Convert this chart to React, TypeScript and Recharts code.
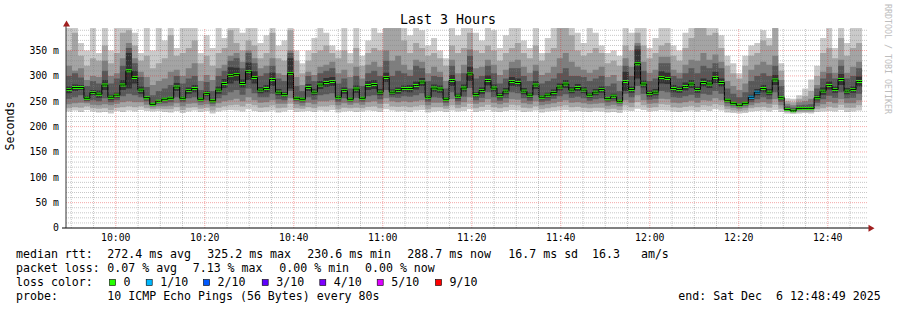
import React from 'react';
import { ComposedChart, Area, Line, XAxis, YAxis, ReferenceLine } from 'recharts';

// ---------- data ----------
const START_TIME = '09:48:49';
const END_TIME = '12:48:49';
const STEP_MINUTES = 1.345;
const Y_MAX = 394.5;

const X_TICK_LABELS = ['10:00', '10:20', '10:40', '11:00', '11:20', '11:40', '12:00', '12:20', '12:40'];
const Y_TICKS = [0, 50, 100, 150, 200, 250, 300, 350];

const MED = [
  273, 277, 277, 256, 267, 264, 282, 258, 262, 282, 310, 297, 272, 257, 244, 250, 254, 256, 278, 256,
  271, 275, 254, 265, 251, 272, 285, 301, 303, 285, 309, 297, 272, 275, 293, 268, 263, 305, 256,
  254, 277, 268, 282, 287, 289, 258, 271, 254, 274, 256, 281, 283, 268, 297, 268, 271, 275, 275, 281,
  288, 258, 276, 274, 254, 291, 260, 276, 304, 263, 271, 291, 276, 261, 270, 289, 287, 270, 262, 282,
  258, 262, 267, 278, 284, 272, 277, 272, 262, 268,
  273, 255, 260, 250, 289, 273, 324, 284, 265, 268, 297, 295, 275, 273, 279, 284, 273, 287, 284, 297,
  287, 252, 246, 242, 246, 258, 268, 275, 268, 292, 257, 234, 231, 236, 236, 236, 257, 270, 281, 273,
  293, 270, 273, 289,
];

const P1 = [
  230, 232, 229, 233, 230, 228, 229, 226, 231, 229, 232, 230, 233, 231, 230, 231, 229, 228, 231, 227,
  230, 232, 229, 231, 226, 230, 232, 233, 232, 230, 234, 231, 229, 230, 232, 228, 230, 233, 229, 230,
  231, 229, 232, 230, 233, 228, 230, 231, 229, 230, 232, 231, 229, 234, 232, 230, 231, 229, 232, 233,
  228, 230, 231, 229, 232, 230, 231, 234, 229, 231, 233, 230, 229, 231, 233, 232, 229, 230, 232, 228,
  230, 231, 232, 233, 230, 231, 230, 229, 231, 230, 228, 229, 227, 232, 231, 235, 233, 230, 231, 233,
  232, 230, 229, 231, 232, 230, 233, 231, 234, 232, 228, 227, 226, 227, 230, 231, 232, 230, 233, 229,
  226, 225, 226, 227, 226, 229, 230, 231, 230, 233, 229, 230, 232,
];
const P2 = [
  236, 238, 237, 240, 236, 235, 236, 233, 237, 238, 240, 238, 240, 236, 234, 235, 234, 234, 238, 233,
  237, 238, 235, 237, 232, 237, 240, 242, 243, 240, 245, 242, 237, 238, 242, 236, 237, 245, 236, 235,
  238, 236, 240, 240, 242, 234, 237, 236, 237, 236, 239, 240, 236, 245, 240, 239, 240, 238, 240, 242,
  234, 238, 238, 235, 242, 236, 239, 245, 236, 239, 243, 238, 236, 238, 243, 242, 237, 236, 240, 234,
  236, 238, 240, 242, 238, 239, 237, 236, 237, 237, 234, 235, 233, 242, 238, 248, 242, 237, 238, 244,
  243, 238, 237, 239, 241, 238, 242, 241, 244, 242, 234, 232, 231, 232, 236, 238, 239, 237, 243, 235,
  229, 228, 229, 229, 229, 234, 236, 239, 237, 243, 237, 237, 242,
];
const P3 = [
  244, 246, 247, 246, 243, 242, 244, 242, 245, 248, 250, 248, 248, 243, 238, 240, 240, 241, 246, 240,
  245, 246, 242, 244, 240, 246, 250, 252, 255, 250, 258, 252, 247, 248, 252, 245, 245, 256, 244, 241,
  247, 244, 250, 250, 252, 242, 246, 243, 246, 243, 248, 250, 245, 256, 250, 248, 250, 248, 250, 252,
  242, 247, 247, 241, 254, 243, 248, 258, 245, 248, 254, 247, 244, 247, 254, 253, 246, 244, 250, 242,
  244, 246, 249, 252, 247, 248, 246, 244, 245, 246, 241, 243, 240, 252, 247, 262, 252, 245, 246, 255,
  254, 247, 246, 248, 251, 247, 252, 251, 256, 252, 240, 237, 235, 237, 242, 246, 248, 245, 254, 242,
  231, 229, 232, 232, 232, 240, 244, 249, 246, 254, 246, 246, 252,
];
const P4 = [
  255, 258, 262, 250, 252, 250, 256, 248, 252, 260, 265, 262, 258, 250, 241, 245, 246, 248, 258, 248,
  256, 258, 248, 252, 245, 256, 262, 268, 272, 263, 275, 266, 258, 258, 265, 254, 252, 270, 250, 247,
  258, 253, 262, 264, 266, 249, 256, 248, 257, 249, 260, 262, 254, 272, 258, 257, 260, 259, 262, 266,
  249, 258, 257, 247, 268, 250, 259, 276, 252, 257, 268, 258, 251, 256, 268, 266, 256, 251, 262, 249,
  251, 255, 260, 264, 257, 259, 256, 251, 254, 256, 248, 250, 245, 265, 258, 280, 265, 253, 255, 270,
  268, 258, 257, 260, 263, 257, 265, 263, 270, 265, 246, 241, 238, 241, 248, 254, 258, 254, 268, 249,
  232, 230, 233, 234, 234, 247, 254, 261, 257, 268, 256, 257, 265,
];
const P5 = [
  266, 270, 272, 252, 262, 257, 272, 253, 257, 272, 275, 285, 265, 254, 242, 248, 251, 253, 270, 252,
  265, 268, 251, 260, 248, 265, 276, 285, 290, 277, 292, 285, 266, 268, 280, 262, 258, 275, 253, 251,
  270, 262, 274, 278, 280, 254, 265, 251, 267, 253, 272, 274, 262, 288, 263, 265, 269, 268, 273, 280,
  254, 269, 267, 250, 280, 255, 269, 290, 258, 265, 281, 269, 256, 264, 280, 279, 264, 257, 274, 254,
  257, 261, 271, 276, 266, 270, 266, 257, 262, 267, 252, 255, 247, 270, 267, 295, 277, 259, 262, 285,
  284, 268, 267, 271, 276, 267, 279, 276, 286, 279, 249, 243, 240, 243, 253, 262, 268, 262, 282, 253,
  233, 230, 234, 235, 235, 252, 263, 273, 267, 282, 264, 267, 279,
];
const P6 = [
  279, 283, 282, 261, 272, 271, 292, 263, 267, 292, 345, 310, 279, 260, 246, 252, 257, 259, 286, 260,
  277, 282, 257, 270, 254, 279, 294, 317, 316, 293, 326, 309, 278, 282, 306, 274, 268, 335, 259, 257,
  284, 274, 290, 296, 298, 262, 277, 257, 281, 259, 290, 292, 274, 306, 273, 277, 281, 282, 289, 296,
  262, 283, 281, 258, 302, 265, 283, 318, 268, 277, 301, 283, 266, 276, 298, 295, 276, 267, 290, 262,
  267, 273, 285, 292, 278, 284, 278, 267, 274, 279, 258, 265, 253, 308, 279, 352, 291, 271, 274, 309,
  306, 282, 279, 287, 292, 279, 295, 292, 308, 295, 255, 249, 244, 249, 263, 274, 282, 274, 302, 261,
  235, 232, 238, 237, 237, 262, 277, 289, 279, 304, 276, 279, 299,
];
const P7 = [
  300, 305, 297, 280, 290, 285, 310, 285, 295, 320, 355, 325, 298, 278, 262, 270, 275, 282, 300, 285,
  295, 300, 272, 288, 270, 300, 310, 330, 335, 315, 345, 325, 300, 305, 320, 295, 290, 345, 280, 270,
  300, 290, 305, 310, 315, 285, 295, 275, 300, 280, 305, 310, 300, 330, 300, 310, 305, 300, 320, 315,
  290, 300, 298, 275, 320, 290, 305, 340, 295, 300, 320, 305, 285, 295, 315, 315, 300, 290, 310, 285,
  290, 295, 305, 315, 300, 300, 298, 290, 295, 300, 280, 285, 270, 320, 300, 360, 310, 290, 295, 325,
  325, 300, 295, 305, 315, 305, 320, 315, 325, 315, 275, 265, 258, 268, 290, 300, 305, 300, 320, 280,
  240, 237, 242, 243, 244, 275, 295, 305, 295, 320, 295, 300, 315,
];
const P8 = [
  320, 310, 315, 292, 300, 298, 330, 300, 305, 335, 365, 335, 308, 298, 282, 290, 295, 308, 312, 300,
  315, 325, 290, 302, 292, 315, 322, 340, 345, 328, 350, 335, 315, 320, 335, 305, 302, 350, 298, 282,
  308, 302, 318, 322, 328, 305, 312, 298, 318, 295, 322, 328, 318, 350, 330, 340, 322, 312, 332, 328,
  305, 318, 308, 290, 332, 305, 322, 352, 315, 318, 332, 322, 302, 312, 328, 332, 318, 306, 322, 302,
  306, 318, 335, 345, 328, 318, 312, 306, 312, 318, 298, 302, 290, 335, 318, 365, 328, 306, 312, 338,
  338, 312, 306, 322, 332, 330, 345, 332, 342, 328, 290, 280, 272, 285, 312, 322, 328, 322, 340, 292,
  245, 242, 248, 250, 255, 282, 308, 318, 306, 332, 306, 318, 328,
];
const P9 = [
  350, 385, 340, 320, 335, 330, 360, 325, 345, 385, 390, 360, 330, 340, 315, 325, 335, 380, 340, 345,
  355, 370, 325, 340, 320, 345, 355, 390, 365, 350, 370, 360, 335, 345, 385, 335, 330, 390, 330, 305,
  330, 345, 350, 360, 345, 335, 350, 325, 355, 320, 345, 355, 350, 400, 400, 400, 370, 345, 365, 355,
  340, 345, 335, 320, 360, 345, 355, 385, 350, 345, 360, 350, 330, 345, 355, 365, 345, 335, 360, 330,
  345, 355, 400, 400, 380, 350, 340, 345, 355, 345, 325, 330, 320, 360, 350, 385, 360, 335, 345, 360,
  365, 340, 330, 355, 375, 400, 400, 380, 385, 355, 320, 305, 295, 320, 340, 345, 370, 360, 400, 310,
  250, 248, 255, 260, 270, 300, 345, 355, 335, 375, 340, 355, 365,
];
const P10 = [
  400, 400, 365, 350, 400, 345, 400, 350, 400, 400, 400, 385, 345, 400, 350, 400, 370, 400, 355, 400,
  400, 400, 345, 380, 355, 400, 375, 400, 400, 385, 400, 400, 365, 380, 400, 360, 370, 400, 350, 325,
  350, 375, 400, 385, 360, 350, 400, 345, 400, 340, 370, 400, 385, 400, 400, 400, 400, 380, 400, 390,
  360, 375, 350, 335, 400, 380, 400, 400, 385, 370, 400, 390, 355, 380, 400, 400, 370, 355, 400, 345,
  375, 400, 400, 400, 400, 385, 365, 400, 385, 360, 345, 350, 340, 400, 385, 400, 400, 355, 375, 400,
  400, 360, 350, 385, 400, 400, 400, 400, 400, 380, 340, 325, 305, 340, 360, 365, 390, 375, 400, 325,
  256, 255, 262, 275, 293, 320, 375, 400, 355, 400, 365, 400, 400,
];

// pings lost (out of 10) per step
const LOSS = [
  0, 0, 0, 0, 0, 0, 0, 0, 0, 0, 0, 0, 0, 0, 0, 0, 0, 0, 0, 0,
  0, 0, 0, 0, 0, 0, 0, 0, 0, 0, 0, 0, 0, 0, 0, 0, 0, 0, 0, 0,
  0, 0, 0, 0, 0, 0, 0, 0, 0, 0, 0, 0, 0, 0, 0, 0, 0, 0, 0, 0,
  0, 0, 0, 0, 0, 0, 0, 0, 0, 0, 0, 0, 0, 0, 0, 0, 0, 0, 0, 0,
  0, 0, 0, 0, 0, 0, 0, 0, 0, 0, 0, 0, 0, 0, 0, 0, 0, 0, 0, 0,
  0, 0, 0, 0, 0, 0, 0, 0, 0, 0, 0, 0, 0, 0, 1, 1, 0, 0, 0, 0,
  0, 0, 0, 0, 0, 0, 0, 0, 0, 0, 0, 0, 0,
];

const LOSS_COLORS = ['#26ff00', '#00b8ff', '#0059ff', '#5e00ff', '#7e00ff', '#dd00ff', '#ff0000'];
const LOSS_LABELS = ['0', '1/10', '2/10', '3/10', '4/10', '5/10', '9/10'];

const STATS_ROW1 = ['median rtt:', '272.4 ms avg', '325.2 ms max', '230.6 ms min', '288.7 ms now', '16.7 ms sd  16.3   am/s'];
const STATS_ROW2 = ['packet loss:', '0.07 % avg', '7.13 % max', '0.00 % min', '0.00 % now'];
const PROBE_TEXT = ['probe:', '10 ICMP Echo Pings (56 Bytes) every 80s', 'end: Sat Dec  6 12:48:49 2025'];

// ---------- layout / style ----------
const W = 897;
const H = 310;
const MONO = "'DejaVu Sans Mono', monospace";
const SMOKE_COLORS = ['#cacaca', '#a4a4a4', '#7e7e7e', '#585858', '#323232'];
const MEDIAN_HALF = 2.9;
const MINOR_GRID = 'rgba(130,130,130,0.45)';
const MAJOR_GRID = 'rgba(225,30,30,0.38)';
const ARROW = '#a11f1f';

const toMin = (s: string) => {
  const [h, m, sec = 0] = s.split(':').map(Number);
  return h * 60 + m + sec / 60;
};
const T0 = toMin(START_TIME);
const SPAN = toMin(END_TIME) - T0;
const X_TICKS = X_TICK_LABELS.map((l) => toMin(l) - T0);

const lossIndex = (l: number) => (l === 0 ? 0 : l <= 4 ? l : l < 9 ? 5 : 6);

const N = MED.length;
const rows: any[] = [];
for (let i = 0; i <= N; i++) {
  const j = Math.min(i, N - 1);
  const row: any = {
    t: i * STEP_MINUTES,
    s1: [P1[j], P10[j]],
    s2: [P2[j], P9[j]],
    s3: [P3[j], P8[j]],
    s4: [P4[j], P7[j]],
    s5: [P5[j], P6[j]],
    med: MED[j],
  };
  LOSS_COLORS.forEach((_, k) => {
    let v: any = null;
    if (i < N && lossIndex(LOSS[i]) === k) v = [MED[i] - MEDIAN_HALF, MED[i] + MEDIAN_HALF];
    else if (i > 0 && lossIndex(LOSS[i - 1]) === k) v = [MED[i - 1] - MEDIAN_HALF, MED[i - 1] + MEDIAN_HALF];
    row['m' + k] = v;
  });
  rows.push(row);
}

// grid positions
const H_MINOR: number[] = [];
const H_MAJOR: number[] = [];
for (let v = 10; v < Y_MAX; v += 10) (v % 50 === 0 ? H_MAJOR : H_MINOR).push(v);
const V_MINOR: number[] = [];
const V_MAJOR: number[] = [];
for (let m = Math.ceil(T0 / 5) * 5; m < T0 + SPAN; m += 5) {
  (m % 20 === 0 ? V_MAJOR : V_MINOR).push(m - T0);
}

const xLabel = (v: number) => {
  const idx = X_TICKS.findIndex((x) => Math.abs(x - v) < 1e-6);
  return idx >= 0 ? X_TICK_LABELS[idx] : '';
};
const yLabel = (v: number) => (v === 0 ? '0' : `${v} m`);

const XTick = (props: any) => (
  <text x={props.x} y={props.y} dy="0.71em" textAnchor="middle" fill="#000" fontSize={9.8} fontFamily={MONO}>
    {xLabel(props.payload.value)}
  </text>
);
const YTick = (props: any) => (
  <text x={props.x} y={props.y} dy="0.355em" textAnchor="end" fill="#000" fontSize={9.8} fontFamily={MONO}>
    {yLabel(props.payload.value)}
  </text>
);

const ROW1_X = [16, 107.3, 207.3, 307.3, 407.3, 508.3];
const ROW2_X = [16, 107.3, 192.7, 279.3, 365];
const BOX_X = [109, 145.7, 203, 261.7, 319.3, 376.7, 435];
const PROBE_X = [16, 107.3, 678.3];

export default function App() {
  const textStyle: React.CSSProperties = { whiteSpace: 'pre' };
  return (
    <div style={{ position: 'absolute', left: 0, top: 0, width: W, height: H, background: '#ffffff' }}>
      <ComposedChart
        width={W}
        height={H}
        data={rows}
        margin={{ top: 28, right: 30, bottom: 0, left: 0 }}
      >
        <XAxis
          dataKey="t"
          type="number"
          domain={[0, SPAN]}
          allowDataOverflow
          ticks={X_TICKS}
          interval={0}
          tickLine={false}
          tickSize={6}
          tickMargin={0}
          height={82}
          axisLine={{ stroke: '#000', strokeWidth: 1 }}
          tick={<XTick />}
        />
        <YAxis
          type="number"
          domain={[0, Y_MAX]}
          allowDataOverflow
          ticks={Y_TICKS}
          interval={0}
          width={66}
          tickLine={false}
          tickSize={6}
          tickMargin={1}
          axisLine={{ stroke: '#333', strokeWidth: 1 }}
          tick={<YTick />}
        />
        {['s1', 's2', 's3', 's4', 's5'].map((k, idx) => (
          <Area
            key={k}
            dataKey={k}
            type="stepAfter"
            stroke="none"
            fill={SMOKE_COLORS[idx]}
            fillOpacity={1}
            dot={false}
            activeDot={false}
            isAnimationActive={false}
          />
        ))}
        <Line
          dataKey="med"
          type="stepAfter"
          stroke="#000"
          strokeWidth={1}
          dot={false}
          activeDot={false}
          isAnimationActive={false}
        />
        {LOSS_COLORS.map((c, k) => (
          <Area
            key={'m' + k}
            dataKey={'m' + k}
            type="stepAfter"
            stroke="none"
            fill={c}
            fillOpacity={1}
            dot={false}
            activeDot={false}
            connectNulls={false}
            isAnimationActive={false}
          />
        ))}
        {H_MINOR.map((v) => (
          <ReferenceLine key={'hm' + v} y={v} stroke={MINOR_GRID} strokeDasharray="1 1" />
        ))}
        {V_MINOR.map((v) => (
          <ReferenceLine key={'vm' + v} x={v} stroke={MINOR_GRID} strokeDasharray="1 1" />
        ))}
        {H_MAJOR.map((v) => (
          <ReferenceLine key={'hM' + v} y={v} stroke={MAJOR_GRID} strokeDasharray="1 1" />
        ))}
        {V_MAJOR.map((v) => (
          <ReferenceLine key={'vM' + v} x={v} stroke={MAJOR_GRID} strokeDasharray="1 1" />
        ))}
      </ComposedChart>
      <svg
        width={W}
        height={H}
        style={{ position: 'absolute', left: 0, top: 0, pointerEvents: 'none' }}
        fontFamily={MONO}
      >
        <text x={448} y={24} fontSize={13.3} textAnchor="middle" fill="#000">Last 3 Hours</text>
        <text x={14} y={126} fontSize={11.6} textAnchor="middle" fill="#000" transform="rotate(-90 14 126)">Seconds</text>
        <text x={885} y={4} fontSize={8.3} fill="#bdbdbd" transform="rotate(90 885 4)">RRDTOOL / TOBI OETIKER</text>
        <line x1={62} y1={228} x2={66} y2={228} stroke="#000" />
        <line x1={867} y1={228} x2={869} y2={228} stroke="#000" />
        <line x1={66} y1={28} x2={66} y2={25} stroke="#333" />
        <polygon points="63,26.5 66.5,20.5 70,26.5" fill={ARROW} />
        <polygon points="868.5,224.8 874.5,228.3 868.5,231.8" fill={ARROW} />
        {STATS_ROW1.map((s, i) => (
          <text key={'r1' + i} x={ROW1_X[i]} y={258} fontSize={11.6} fill="#000" style={textStyle}>{s}</text>
        ))}
        {STATS_ROW2.map((s, i) => (
          <text key={'r2' + i} x={ROW2_X[i]} y={272} fontSize={11.6} fill="#000" style={textStyle}>{s}</text>
        ))}
        <text x={16} y={286} fontSize={11.6} fill="#000" style={textStyle}>loss color:</text>
        {LOSS_COLORS.map((c, i) => (
          <g key={'lc' + i}>
            <rect x={BOX_X[i] + 0.5} y={279.5} width={6} height={6} fill={c} stroke="#000" strokeWidth={0.6} />
            <text x={BOX_X[i] + 14.5} y={286} fontSize={11.6} fill="#000" style={textStyle}>{LOSS_LABELS[i]}</text>
          </g>
        ))}
        {PROBE_TEXT.map((s, i) => (
          <text key={'p' + i} x={PROBE_X[i]} y={300} fontSize={11.6} fill="#000" style={textStyle}>{s}</text>
        ))}
      </svg>
    </div>
  );
}
